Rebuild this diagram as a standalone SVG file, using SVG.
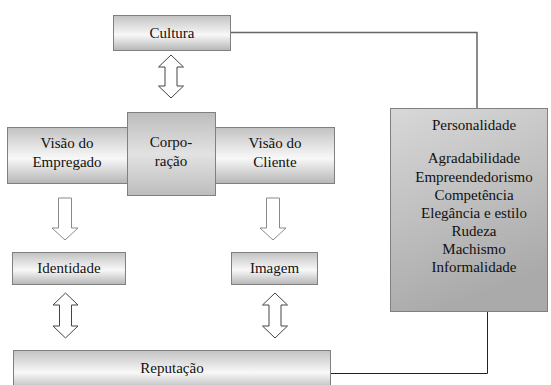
<svg xmlns="http://www.w3.org/2000/svg" width="551" height="385" viewBox="0 0 551 385">
<defs>
<linearGradient id="gBox" x1="0" y1="0" x2="0" y2="1">
<stop offset="0" stop-color="#c2c2c2"/>
<stop offset="0.55" stop-color="#f8f8f8"/>
<stop offset="1" stop-color="#b6b6b6"/>
</linearGradient>
<linearGradient id="gCorp" x1="0" y1="0" x2="0" y2="1">
<stop offset="0" stop-color="#bcbcbc"/>
<stop offset="0.5" stop-color="#e2e2e2"/>
<stop offset="1" stop-color="#bdbdbd"/>
</linearGradient>
<linearGradient id="gPers" x1="0" y1="0" x2="0.3" y2="1">
<stop offset="0" stop-color="#d8d8d8"/>
<stop offset="1" stop-color="#aaaaaa"/>
</linearGradient>
</defs>
<style>
.box{stroke:#808080;stroke-width:1}
text{font-family:'Liberation Serif','Times New Roman','DejaVu Serif',serif;font-size:15px;fill:#111;text-anchor:middle}
.dbl{fill:#fff;stroke:#444;stroke-width:1}
.dn{fill:#fff;stroke:#8a8a8a;stroke-width:1}
</style>
<g id="connectors">
<polyline points="230,32.5 477,32.5 477,108" fill="none" stroke="#666" stroke-width="1.5"/>
<polyline points="331,373.5 487.5,373.5 487.5,312" fill="none" stroke="#222" stroke-width="1"/>
<path class="dbl" d="M171,55 L183.5,67 L177,67 L177,86 L183.5,86 L171,98 L158.5,86 L165,86 L165,67 L158.5,67 Z"/>
<path class="dn" d="M58.5,198 L71.5,198 L71.5,228 L78,228 L65,240 L52,228 L58.5,228 Z"/>
<path class="dn" d="M266.5,198 L279.5,198 L279.5,228 L286,228 L273,240 L260,228 L266.5,228 Z"/>
<path class="dbl" d="M65.5,293 L78,305 L71.5,305 L71.5,326 L78,326 L65.5,338 L53,326 L59.5,326 L59.5,305 L53,305 Z"/>
<path class="dbl" d="M275,293 L287.5,305 L281,305 L281,326 L287.5,326 L275,338 L262.5,326 L269,326 L269,305 L262.5,305 Z"/>
</g>
<g id="cultura">
<rect class="box" x="113.5" y="15.5" width="117" height="35" fill="url(#gBox)"/>
<text x="172" y="38" font-family="Liberation Serif, serif">Cultura</text>
</g>
<g id="visao-empregado">
<rect class="box" x="7.5" y="127.5" width="120" height="56" fill="url(#gBox)"/>
<text x="67" y="148" font-family="Liberation Serif, serif">Visão do</text>
<text x="67" y="167" font-family="Liberation Serif, serif">Empregado</text>
</g>
<g id="visao-cliente">
<rect class="box" x="215.5" y="127.5" width="119" height="56" fill="url(#gBox)"/>
<text x="275" y="148" font-family="Liberation Serif, serif">Visão do</text>
<text x="275" y="167" font-family="Liberation Serif, serif">Cliente</text>
</g>
<g id="corporacao">
<rect class="box" x="127.5" y="112.5" width="88" height="83" fill="url(#gCorp)"/>
<text x="171" y="147" font-family="Liberation Serif, serif">Corpo-</text>
<text x="171" y="166" font-family="Liberation Serif, serif">ração</text>
</g>
<g id="identidade">
<rect class="box" x="12.5" y="252.5" width="113" height="32" fill="url(#gBox)"/>
<text x="69" y="273" font-family="Liberation Serif, serif">Identidade</text>
</g>
<g id="imagem">
<rect class="box" x="231.5" y="252.5" width="86" height="32" fill="url(#gBox)"/>
<text x="274.5" y="273" font-family="Liberation Serif, serif">Imagem</text>
</g>
<g id="reputacao">
<rect class="box" x="13.5" y="350.5" width="317" height="40" fill="url(#gBox)"/>
<text x="172" y="373" font-family="Liberation Serif, serif">Reputação</text>
</g>
<g id="personalidade">
<rect class="box" x="390.5" y="108.5" width="157" height="203" fill="url(#gPers)"/>
<text x="474" y="130" font-family="Liberation Serif, serif">Personalidade</text>
<text x="474" y="163" font-family="Liberation Serif, serif">Agradabilidade</text>
<text x="474" y="181.5" font-family="Liberation Serif, serif">Empreendedorismo</text>
<text x="474" y="200" font-family="Liberation Serif, serif">Competência</text>
<text x="474" y="218" font-family="Liberation Serif, serif">Elegância e estilo</text>
<text x="474" y="236" font-family="Liberation Serif, serif">Rudeza</text>
<text x="474" y="254" font-family="Liberation Serif, serif">Machismo</text>
<text x="474" y="272" font-family="Liberation Serif, serif">Informalidade</text>
</g>
</svg>
